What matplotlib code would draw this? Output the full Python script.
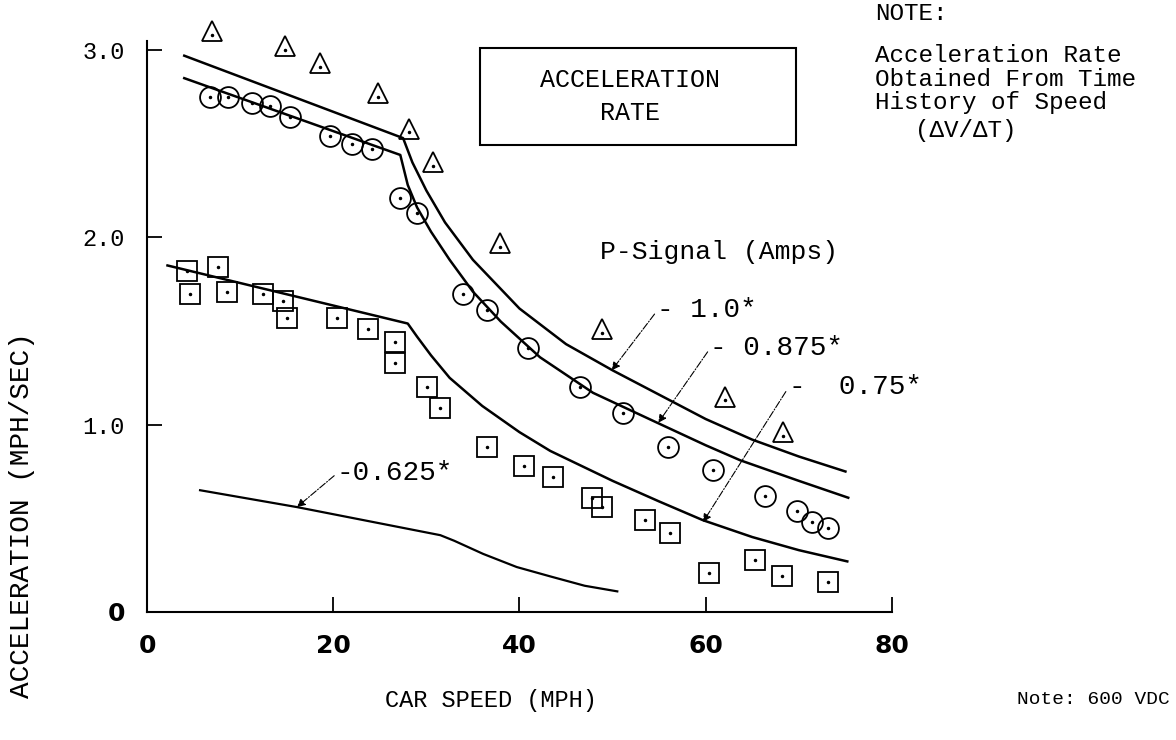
import matplotlib
matplotlib.use("Agg")
import matplotlib.pyplot as plt
from matplotlib import font_manager
from matplotlib.patches import Rectangle

MONO = "Liberation Mono"
names = {f.name for f in font_manager.fontManager.ttflist}
if "Liberation Sans Narrow" in names:
    NUM_FONT, NUM_SIZE = "Liberation Sans Narrow", 22
else:
    NUM_FONT, NUM_SIZE = "DejaVu Sans", 18

tri_x = [7.0, 14.8, 18.6, 24.8, 28.1, 30.7, 37.9, 48.9, 62.1, 68.3]
tri_y = [3.10, 3.02, 2.93, 2.77, 2.58, 2.40, 1.97, 1.51, 1.15, 0.96]

circ_x = [6.8, 8.7, 11.3, 13.2, 15.4, 19.7, 22.0, 24.2, 27.2, 29.0, 33.9,
          36.5, 40.9, 46.5, 51.1, 56.0, 60.8, 66.4, 69.8, 71.4, 73.1]
circ_y = [2.75, 2.75, 2.72, 2.70, 2.64, 2.54, 2.50, 2.47, 2.21, 2.13, 1.70,
          1.61, 1.41, 1.20, 1.06, 0.88, 0.76, 0.62, 0.54, 0.48, 0.45]

sq_x = [4.3, 7.6, 4.6, 8.6, 12.5, 14.6, 15.0, 20.4, 23.7, 26.6, 26.6, 30.1,
        31.5, 36.5, 40.5, 43.6, 47.8, 48.9, 53.5, 56.2, 60.3, 65.3, 68.2, 73.1]
sq_y = [1.82, 1.84, 1.70, 1.71, 1.70, 1.66, 1.57, 1.57, 1.51, 1.44, 1.33, 1.20,
        1.09, 0.88, 0.78, 0.72, 0.61, 0.56, 0.49, 0.42, 0.21, 0.28, 0.19, 0.16]

# P-signal curves
l100_x = [4.0, 27.5, 28.5, 30.0, 32.0, 35.0, 40.0, 45.0, 50.0, 55.0, 60.0, 65.0, 70.0, 75.0]
l100_y = [2.97, 2.53, 2.40, 2.25, 2.08, 1.88, 1.62, 1.43, 1.29, 1.16, 1.03, 0.92, 0.83, 0.75]

l875_x = [4.0, 27.2, 28.0, 29.0, 30.5, 32.5, 35.0, 38.0, 42.2, 47.9, 54.8, 60.0, 63.7, 70.0, 75.3]
l875_y = [2.85, 2.44, 2.28, 2.16, 2.03, 1.88, 1.71, 1.55, 1.36, 1.17, 1.01, 0.89, 0.81, 0.70, 0.61]

l75_x = [2.2, 28.0, 29.0, 30.5, 32.5, 36.0, 40.0, 43.3, 50.0, 55.0, 59.7, 65.0, 70.0, 75.2]
l75_y = [1.85, 1.54, 1.47, 1.37, 1.25, 1.10, 0.96, 0.86, 0.70, 0.59, 0.49, 0.40, 0.33, 0.27]

l625_x = [5.7, 16.1, 31.5, 33.0, 36.1, 39.7, 43.3, 47.0, 50.5]
l625_y = [0.65, 0.56, 0.41, 0.38, 0.31, 0.24, 0.19, 0.14, 0.11]

xticks = [0, 20, 40, 60, 80]
yticks = [0, 1, 2, 3]
ytick_labels = ["0", "1.0", "2.0", "3.0"]

fig = plt.figure(figsize=(11.76, 7.4), dpi=100)
ax = fig.add_axes([0.125, 0.173, 0.6335, 0.772])

# curves
for xs, ys in [(l100_x, l100_y), (l875_x, l875_y), (l75_x, l75_y)]:
    ax.plot(xs, ys, color="black", lw=1.8)
ax.plot(l625_x, l625_y, color="black", lw=1.6)

# data points (open symbols with a dot in the middle)
mk = dict(ls="none", ms=15, mfc="none", mec="black", mew=1.3, clip_on=False)
ax.plot(tri_x, tri_y, marker="^", **mk)
ax.plot(circ_x, circ_y, marker="o", **mk)
ax.plot(sq_x, sq_y, marker="s", **mk)
ax.plot(tri_x, [y - 0.02 for y in tri_y], ls="none", marker=".", ms=3,
        color="black", clip_on=False)
ax.plot(circ_x + sq_x, circ_y + sq_y, ls="none", marker=".", ms=3, color="black")

ax.set_xlim(0, 80)
ax.set_ylim(0, 3.05)
ax.spines["top"].set_visible(False)
ax.spines["right"].set_visible(False)
ax.spines["left"].set_linewidth(1.5)
ax.spines["bottom"].set_linewidth(1.5)
ax.set_xticks(xticks)
ax.set_xticklabels([str(t) for t in xticks], fontsize=NUM_SIZE, fontweight="bold",
                   family=NUM_FONT)
ax.set_yticks(yticks)
ax.set_yticklabels(ytick_labels, fontsize=17, family=MONO)
ax.get_yticklabels()[0].set_family(NUM_FONT)
ax.get_yticklabels()[0].set_fontweight("bold")
ax.get_yticklabels()[0].set_fontsize(NUM_SIZE)
ax.tick_params(axis="x", direction="in", length=11, width=1.3, pad=16)
ax.tick_params(axis="y", direction="in", length=11, width=1.3, pad=16)

# leaders to the curves
arrow = dict(arrowstyle="-|>", color="black", lw=0.8, ls="-.",
             mutation_scale=12, shrinkA=0, shrinkB=0, relpos=(0, 0.5))
ax.annotate("- 1.0*", xy=(49.9, 1.29), xytext=(54.8, 1.61), fontsize=20,
            family=MONO, ha="left", va="center", arrowprops=arrow)
ax.annotate("- 0.875*", xy=(54.9, 1.01), xytext=(60.5, 1.41), fontsize=20,
            family=MONO, ha="left", va="center", arrowprops=arrow,
            annotation_clip=False)
ax.annotate("-  0.75*", xy=(59.7, 0.48), xytext=(68.9, 1.20), fontsize=20,
            family=MONO, ha="left", va="center", arrowprops=arrow,
            annotation_clip=False)
ax.annotate("-0.625*", xy=(16.1, 0.56), xytext=(20.4, 0.74), fontsize=20,
            family=MONO, ha="left", va="center", arrowprops=arrow)

fig.text(600 / 1176, 1 - 252 / 740, "P-Signal (Amps)", fontsize=19, family=MONO,
         ha="left", va="center")

# boxed title
fig.patches.append(Rectangle((480 / 1176, 1 - 145 / 740), 316 / 1176, 97 / 740,
                             transform=fig.transFigure, fill=False, lw=1.5,
                             edgecolor="black"))
fig.text(630 / 1176, 1 - 80 / 740, "ACCELERATION", fontsize=18, family=MONO,
         ha="center", va="center")
fig.text(630 / 1176, 1 - 113 / 740, "RATE", fontsize=18, family=MONO,
         ha="center", va="center")

# note
note_lines = ["Acceleration Rate", "Obtained From Time", "History of Speed"]
fig.text(875 / 1176, 1 - 14 / 740, "NOTE:", fontsize=17.5, family=MONO, va="center")
for i, s in enumerate(note_lines):
    fig.text(875 / 1176, 1 - (55 + 24 * i) / 740, s, fontsize=17.5, family=MONO,
             va="center")
fig.text(915 / 1176, 1 - 131 / 740, "(\u0394V/\u0394T)", fontsize=17.5, family=MONO,
         va="center")

# axis titles
fig.text(491 / 1176, 1 - 700 / 740, "CAR SPEED (MPH)", fontsize=17, family=MONO,
         ha="center", va="center")
fig.text(22 / 1176, 1 - 515 / 740, "ACCELERATION (MPH/SEC)", fontsize=20,
         family=MONO, rotation=90, ha="center", va="center")
fig.text(1017 / 1176, 1 - 700 / 740, "Note: 600 VDC", fontsize=14, family=MONO,
         va="center")

fig.savefig("out.png", dpi=100, facecolor="white")
